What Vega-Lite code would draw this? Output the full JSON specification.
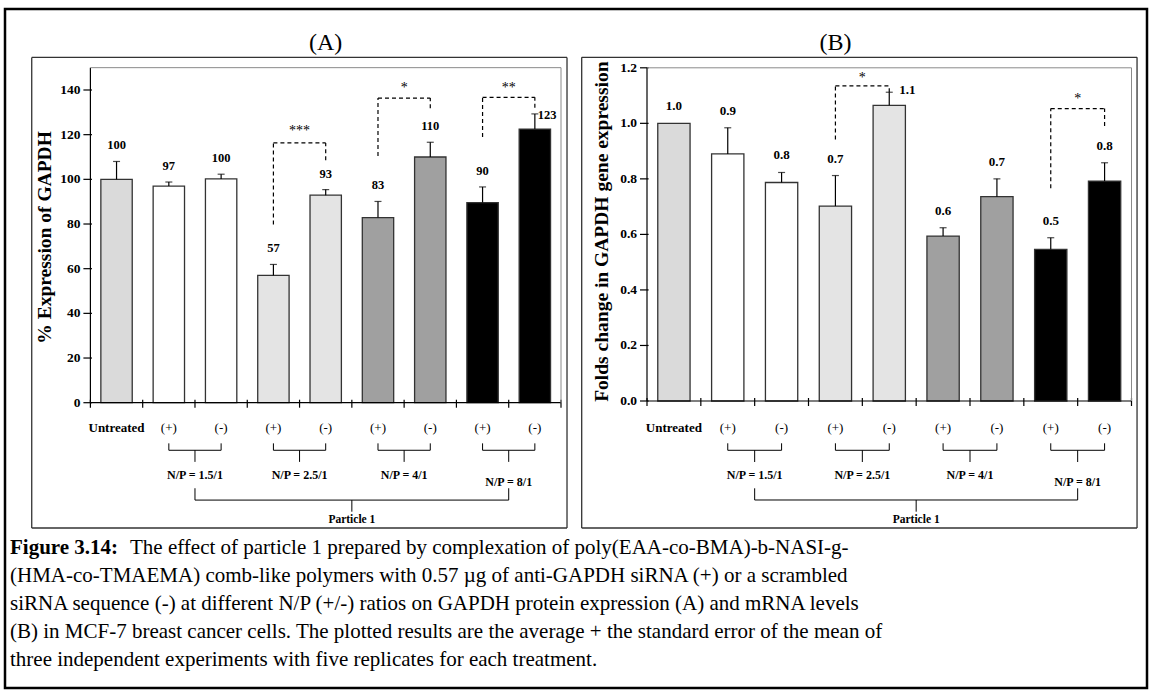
{
  "$schema": "https://vega.github.io/schema/vega-lite/v6.json",
  "width": 1142,
  "height": 679,
  "autosize": {"type": "none"},
  "padding": {"left": 5, "top": 9, "right": 5, "bottom": 2},
  "background": "white",
  "config": {
    "font": "Liberation Serif",
    "view": {"stroke": "#000000", "strokeWidth": 2.5},
    "axis": {"grid": false}
  },
  "datasets": {
    "a": [
      {"cat": "U", "grp": "U", "xl": "Untreated", "mean": 100, "upper": 108, "label": "100"},
      {"cat": "1.5+", "grp": "1.5", "xl": "(+)", "mean": 97, "upper": 98.8, "label": "97"},
      {"cat": "1.5-", "grp": "1.5", "xl": "(-)", "mean": 100.2, "upper": 102.3, "label": "100"},
      {"cat": "2.5+", "grp": "2.5", "xl": "(+)", "mean": 57, "upper": 61.9, "label": "57"},
      {"cat": "2.5-", "grp": "2.5", "xl": "(-)", "mean": 92.9, "upper": 95.4, "label": "93"},
      {"cat": "4+", "grp": "4", "xl": "(+)", "mean": 82.9, "upper": 90.1, "label": "83"},
      {"cat": "4-", "grp": "4", "xl": "(-)", "mean": 110, "upper": 116.6, "label": "110"},
      {"cat": "8+", "grp": "8", "xl": "(+)", "mean": 89.6, "upper": 96.6, "label": "90"},
      {"cat": "8-", "grp": "8", "xl": "(-)", "mean": 122.5, "upper": 129.3, "label": "123"}
    ],
    "b": [
      {"cat": "U", "grp": "U", "xl": "Untreated", "mean": 1.0, "upper": 1.0, "label": "1.0"},
      {"cat": "1.5+", "grp": "1.5", "xl": "(+)", "mean": 0.89, "upper": 0.984, "label": "0.9"},
      {"cat": "1.5-", "grp": "1.5", "xl": "(-)", "mean": 0.787, "upper": 0.823, "label": "0.8"},
      {"cat": "2.5+", "grp": "2.5", "xl": "(+)", "mean": 0.702, "upper": 0.812, "label": "0.7"},
      {"cat": "2.5-", "grp": "2.5", "xl": "(-)", "mean": 1.065, "upper": 1.112, "label": "1.1"},
      {"cat": "4+", "grp": "4", "xl": "(+)", "mean": 0.594, "upper": 0.624, "label": "0.6"},
      {"cat": "4-", "grp": "4", "xl": "(-)", "mean": 0.736, "upper": 0.8, "label": "0.7"},
      {"cat": "8+", "grp": "8", "xl": "(+)", "mean": 0.546, "upper": 0.588, "label": "0.5"},
      {"cat": "8-", "grp": "8", "xl": "(-)", "mean": 0.792, "upper": 0.858, "label": "0.8"}
    ],
    "yticksA": [
      {"at": "U", "v": 0, "t": "0"}, {"at": "U", "v": 20, "t": "20"}, {"at": "U", "v": 40, "t": "40"}, {"at": "U", "v": 60, "t": "60"},
      {"at": "U", "v": 80, "t": "80"}, {"at": "U", "v": 100, "t": "100"}, {"at": "U", "v": 120, "t": "120"}, {"at": "U", "v": 140, "t": "140"}
    ],
    "yticksB": [
      {"at": "U", "v": 0, "t": "0.0"}, {"at": "U", "v": 0.2, "t": "0.2"}, {"at": "U", "v": 0.4, "t": "0.4"}, {"at": "U", "v": 0.6, "t": "0.6"},
      {"at": "U", "v": 0.8, "t": "0.8"}, {"at": "U", "v": 1.0, "t": "1.0"}, {"at": "U", "v": 1.2, "t": "1.2"}
    ],
    "sigA": [
      {"c1": "2.5+", "c2": "2.5-", "yl": 79.8, "yt": 116.3, "yr": 108.5, "ys": 122.8, "star": "***"},
      {"c1": "4+", "c2": "4-", "yl": 110.5, "yt": 136.4, "yr": 131.8, "ys": 141.8, "star": "*"},
      {"c1": "8+", "c2": "8-", "yl": 119, "yt": 136.7, "yr": 132, "ys": 142.2, "star": "**"}
    ],
    "sigB": [
      {"c1": "2.5+", "c2": "2.5-", "yl": 0.942, "yt": 1.135, "yr": 1.112, "ys": 1.174, "star": "*"},
      {"c1": "8+", "c2": "8-", "yl": 0.766, "yt": 1.053, "yr": 0.99, "ys": 1.096, "star": "*"}
    ],
    "pairs": [
      {"c1": "1.5+", "c2": "1.5-", "np": "N/P = 1.5/1"},
      {"c1": "2.5+", "c2": "2.5-", "np": "N/P = 2.5/1"},
      {"c1": "4+", "c2": "4-", "np": "N/P = 4/1"},
      {"c1": "8+", "c2": "8-", "np": "N/P = 8/1"}
    ],
    "group": [
      {"first": "U", "last": "8-", "p1": "1.5-", "mid": "4+", "ptitle": "Particle 1"}
    ],
    "titleA": [{"at": "2.5-", "first": "U", "t": "(A)", "ytitle": "% Expression of GAPDH"}],
    "titleB": [{"at": "2.5+", "first": "U", "t": "(B)", "ytitle": "Folds change in GAPDH gene expression"}],
    "caption": [
      {"line": 1, "kind": "head", "text": "Figure 3.14:"},
      {"line": 1, "kind": "lead", "text": "The effect of particle 1 prepared by complexation of poly(EAA-co-BMA)-b-NASI-g-"},
      {"line": 2, "kind": "body", "text": "(HMA-co-TMAEMA) comb-like polymers with 0.57 µg of anti-GAPDH siRNA (+) or a scrambled"},
      {"line": 3, "kind": "body", "text": "siRNA sequence (-) at different N/P (+/-) ratios on GAPDH protein expression (A) and mRNA levels"},
      {"line": 4, "kind": "body", "text": "(B) in MCF-7 breast cancer cells. The plotted results are the average + the standard error of the mean of"},
      {"line": 5, "kind": "body", "text": "three independent experiments with five replicates for each treatment."}
    ]
  },
  "resolve": {"scale": {"x": "independent", "y": "independent"}},
  "layer": [
    {
      "layer": [
        {
          "data": {"name": "a"},
          "mark": {"type": "bar", "width": {"band": 0.6}, "stroke": "#333333", "strokeWidth": 1.3},
          "encoding": {
            "x": {"field": "cat", "type": "nominal",
              "scale": {"type": "band", "domain": ["U", "1.5+", "1.5-", "2.5+", "2.5-", "4+", "4-", "8+", "8-"], "range": [85.4, 556.0], "paddingInner": 0, "paddingOuter": 0, "round": false},
              "axis": null},
            "y": {"field": "mean", "type": "quantitative",
              "scale": {"domain": [0, 150], "range": [393.7, 58.66], "nice": false, "zero": false},
              "axis": null},
            "color": {"field": "grp", "type": "nominal", "scale": {"domain": ["U", "1.5", "2.5", "4", "8"], "range": ["#dadada", "#ffffff", "#e4e4e4", "#a0a0a0", "#000000"]}, "legend": null}
          }
        },
        {
          "data": {"name": "a"},
          "mark": {"type": "rule", "color": "#000000", "strokeWidth": 1.2},
          "encoding": {"x": {"field": "cat", "type": "nominal", "axis": null}, "y": {"field": "mean", "type": "quantitative", "axis": null}, "y2": {"field": "upper"}}
        },
        {
          "data": {"name": "a"},
          "mark": {"type": "tick", "color": "#000000", "size": 7, "thickness": 1.2, "orient": "horizontal"},
          "encoding": {"x": {"field": "cat", "type": "nominal", "axis": null}, "y": {"field": "upper", "type": "quantitative", "axis": null}}
        },
        {
          "data": {"name": "a"},
          "transform": [{"filter": "datum.cat != '8-'"}],
          "mark": {"type": "text", "fontWeight": "bold", "fontSize": 12.5, "dy": -16, "baseline": "middle", "color": "#000000"},
          "encoding": {"x": {"field": "cat", "type": "nominal", "axis": null}, "y": {"field": "upper", "type": "quantitative", "axis": null}, "text": {"field": "label"}}
        },
        {
          "data": {"name": "a"},
          "transform": [{"filter": "datum.cat == '8-'"}],
          "mark": {"type": "text", "fontWeight": "bold", "fontSize": 12.5, "dx": 3, "dy": 1.6, "align": "left", "baseline": "middle", "color": "#000000"},
          "encoding": {"x": {"field": "cat", "type": "nominal", "axis": null}, "y": {"field": "upper", "type": "quantitative", "axis": null}, "text": {"field": "label"}}
        },
        {
          "data": {"name": "a"},
          "mark": {"type": "rule", "color": "#000000", "strokeWidth": 1.2},
          "encoding": {"x": {"field": "cat", "type": "nominal", "bandPosition": 0, "axis": null}, "y": {"datum": 1.34, "axis": null}, "y2": {"datum": -2.24}}
        },
        {
          "data": {"name": "a"},
          "transform": [{"filter": "datum.cat == 'U'"}],
          "mark": {"type": "text", "fontWeight": "bold", "fontSize": 13, "baseline": "middle", "color": "#000000"},
          "encoding": {"x": {"field": "cat", "type": "nominal", "axis": null}, "y": {"datum": -11.3, "axis": null}, "text": {"field": "xl"}}
        },
        {
          "data": {"name": "a"},
          "transform": [{"filter": "datum.cat != 'U'"}],
          "mark": {"type": "text", "fontSize": 13, "baseline": "middle", "color": "#000000"},
          "encoding": {"x": {"field": "cat", "type": "nominal", "axis": null}, "y": {"datum": -11.3, "axis": null}, "text": {"field": "xl"}}
        },
        {
          "data": {"name": "yticksA"},
          "mark": {"type": "rule", "color": "#000000", "strokeWidth": 1.2},
          "encoding": {"x": {"field": "at", "type": "nominal", "bandPosition": 0.03, "axis": null}, "x2": {"field": "at", "bandPosition": -0.134}, "y": {"field": "v", "type": "quantitative", "axis": null}}
        },
        {
          "data": {"name": "yticksA"},
          "mark": {"type": "text", "fontWeight": "bold", "fontSize": 13.5, "align": "right", "baseline": "middle", "dx": -10, "color": "#000000"},
          "encoding": {"x": {"field": "at", "type": "nominal", "bandPosition": 0, "axis": null}, "y": {"field": "v", "type": "quantitative", "axis": null}, "text": {"field": "t"}}
        },
        {
          "data": {"name": "titleA"},
          "mark": {"type": "text", "fontWeight": "bold", "fontSize": 19.5, "angle": 270, "align": "center", "baseline": "middle", "color": "#000000"},
          "encoding": {"x": {"field": "first", "type": "nominal", "bandPosition": -0.868, "axis": null}, "y": {"datum": 74, "axis": null}, "text": {"field": "ytitle"}}
        },
        {
          "data": {"name": "group"},
          "mark": {"type": "rule", "color": "#000000", "strokeWidth": 1.2},
          "encoding": {"x": {"field": "first", "type": "nominal", "bandPosition": 0, "axis": null}, "y": {"datum": 0, "axis": null}, "y2": {"datum": 150}}
        },
        {
          "data": {"name": "group"},
          "mark": {"type": "rule", "color": "#000000", "strokeWidth": 1.2},
          "encoding": {"x": {"field": "first", "type": "nominal", "bandPosition": 0, "axis": null}, "x2": {"field": "last", "bandPosition": 1}, "y": {"datum": 0, "axis": null}}
        },
        {
          "data": {"name": "group"},
          "mark": {"type": "rule", "color": "#000000", "strokeWidth": 1.2},
          "encoding": {"x": {"field": "last", "type": "nominal", "bandPosition": 1, "axis": null}, "y": {"datum": 1.34, "axis": null}, "y2": {"datum": -2.24}}
        },
        {
          "data": {"name": "sigA"},
          "mark": {"type": "rule", "color": "#000000", "strokeWidth": 1.2, "strokeDash": [4, 3]},
          "encoding": {"x": {"field": "c1", "type": "nominal", "axis": null}, "y": {"field": "yl", "type": "quantitative", "axis": null}, "y2": {"field": "yt"}}
        },
        {
          "data": {"name": "sigA"},
          "mark": {"type": "rule", "color": "#000000", "strokeWidth": 1.2, "strokeDash": [4, 3]},
          "encoding": {"x": {"field": "c1", "type": "nominal", "axis": null}, "x2": {"field": "c2"}, "y": {"field": "yt", "type": "quantitative", "axis": null}}
        },
        {
          "data": {"name": "sigA"},
          "mark": {"type": "rule", "color": "#000000", "strokeWidth": 1.2, "strokeDash": [4, 3]},
          "encoding": {"x": {"field": "c2", "type": "nominal", "axis": null}, "y": {"field": "yr", "type": "quantitative", "axis": null}, "y2": {"field": "yt"}}
        },
        {
          "data": {"name": "sigA"},
          "mark": {"type": "text", "fontSize": 14, "baseline": "alphabetic", "dy": 6.5, "color": "#000000"},
          "encoding": {"x": {"field": "c2", "type": "nominal", "bandPosition": 0, "axis": null}, "y": {"field": "ys", "type": "quantitative", "axis": null}, "text": {"field": "star"}}
        },
        {
          "data": {"name": "pairs"},
          "mark": {"type": "rule", "color": "#000000", "strokeWidth": 1},
          "encoding": {"x": {"field": "c1", "type": "nominal", "axis": null}, "y": {"datum": -18.2, "axis": null}, "y2": {"datum": -21.3}}
        },
        {
          "data": {"name": "pairs"},
          "mark": {"type": "rule", "color": "#000000", "strokeWidth": 1},
          "encoding": {"x": {"field": "c2", "type": "nominal", "axis": null}, "y": {"datum": -18.2, "axis": null}, "y2": {"datum": -21.3}}
        },
        {
          "data": {"name": "pairs"},
          "mark": {"type": "rule", "color": "#000000", "strokeWidth": 1},
          "encoding": {"x": {"field": "c1", "type": "nominal", "axis": null}, "x2": {"field": "c2"}, "y": {"datum": -21.3, "axis": null}}
        },
        {
          "data": {"name": "pairs"},
          "mark": {"type": "rule", "color": "#000000", "strokeWidth": 1},
          "encoding": {"x": {"field": "c2", "type": "nominal", "bandPosition": 0, "axis": null}, "y": {"datum": -21.3, "axis": null}, "y2": {"datum": -26.5}}
        },
        {
          "data": {"name": "pairs"},
          "transform": [{"filter": "datum.c2 != '8-'"}],
          "mark": {"type": "text", "fontSize": 12, "fontWeight": "bold", "baseline": "middle", "color": "#000000"},
          "encoding": {"x": {"field": "c2", "type": "nominal", "bandPosition": 0, "axis": null}, "y": {"datum": -32.4, "axis": null}, "text": {"field": "np"}}
        },
        {
          "data": {"name": "pairs"},
          "transform": [{"filter": "datum.c2 == '8-'"}],
          "mark": {"type": "text", "fontSize": 12, "fontWeight": "bold", "baseline": "middle", "color": "#000000"},
          "encoding": {"x": {"field": "c2", "type": "nominal", "bandPosition": 0, "axis": null}, "y": {"datum": -35.4, "axis": null}, "text": {"field": "np"}}
        },
        {
          "data": {"name": "group"},
          "mark": {"type": "rule", "color": "#000000", "strokeWidth": 1},
          "encoding": {"x": {"field": "p1", "type": "nominal", "bandPosition": 0, "axis": null}, "y": {"datum": -38.3, "axis": null}, "y2": {"datum": -43.6}}
        },
        {
          "data": {"name": "group"},
          "mark": {"type": "rule", "color": "#000000", "strokeWidth": 1},
          "encoding": {"x": {"field": "last", "type": "nominal", "bandPosition": 0, "axis": null}, "y": {"datum": -38.3, "axis": null}, "y2": {"datum": -43.6}}
        },
        {
          "data": {"name": "group"},
          "mark": {"type": "rule", "color": "#000000", "strokeWidth": 1},
          "encoding": {"x": {"field": "p1", "type": "nominal", "bandPosition": 0, "axis": null}, "x2": {"field": "last", "bandPosition": 0}, "y": {"datum": -43.6, "axis": null}}
        },
        {
          "data": {"name": "group"},
          "mark": {"type": "rule", "color": "#000000", "strokeWidth": 1},
          "encoding": {"x": {"field": "mid", "type": "nominal", "bandPosition": 0, "axis": null}, "y": {"datum": -43.6, "axis": null}, "y2": {"datum": -48.8}}
        },
        {
          "data": {"name": "group"},
          "mark": {"type": "text", "fontSize": 11.5, "fontWeight": "bold", "baseline": "middle", "color": "#000000"},
          "encoding": {"x": {"field": "mid", "type": "nominal", "bandPosition": 0, "axis": null}, "y": {"datum": -52.5, "axis": null}, "text": {"field": "ptitle"}}
        },
        {
          "data": {"name": "group"},
          "mark": {"type": "rule", "color": "#8a8a8a", "strokeWidth": 1},
          "encoding": {"x": {"field": "first", "type": "nominal", "bandPosition": 0, "axis": null}, "x2": {"field": "last", "bandPosition": 1}, "y": {"datum": 150, "axis": null}}
        },
        {
          "data": {"name": "group"},
          "mark": {"type": "rule", "color": "#8a8a8a", "strokeWidth": 1},
          "encoding": {"x": {"field": "last", "type": "nominal", "bandPosition": 1, "axis": null}, "y": {"datum": 0, "axis": null}, "y2": {"datum": 150}}
        },
        {
          "data": {"name": "group"},
          "mark": {"type": "rule", "color": "#333333", "strokeWidth": 1.3},
          "encoding": {"x": {"field": "first", "type": "nominal", "bandPosition": -1.122, "axis": null}, "x2": {"field": "last", "bandPosition": 1.115}, "y": {"datum": 154.6, "axis": null}}
        },
        {
          "data": {"name": "group"},
          "mark": {"type": "rule", "color": "#333333", "strokeWidth": 1.3},
          "encoding": {"x": {"field": "first", "type": "nominal", "bandPosition": -1.122, "axis": null}, "x2": {"field": "last", "bandPosition": 1.115}, "y": {"datum": -56.1, "axis": null}}
        },
        {
          "data": {"name": "group"},
          "mark": {"type": "rule", "color": "#333333", "strokeWidth": 1.3},
          "encoding": {"x": {"field": "first", "type": "nominal", "bandPosition": -1.122, "axis": null}, "y": {"datum": -56.1, "axis": null}, "y2": {"datum": 154.6}}
        },
        {
          "data": {"name": "group"},
          "mark": {"type": "rule", "color": "#333333", "strokeWidth": 1.3},
          "encoding": {"x": {"field": "last", "type": "nominal", "bandPosition": 1.115, "axis": null}, "y": {"datum": -56.1, "axis": null}, "y2": {"datum": 154.6}}
        },
        {
          "data": {"name": "titleA"},
          "mark": {"type": "text", "fontSize": 24, "baseline": "middle", "color": "#000000"},
          "encoding": {"x": {"field": "at", "type": "nominal", "axis": null}, "y": {"datum": 161, "axis": null}, "text": {"field": "t"}}
        }
      ]
    },
    {
      "layer": [
        {
          "data": {"name": "b"},
          "mark": {"type": "bar", "width": {"band": 0.6}, "stroke": "#333333", "strokeWidth": 1.3},
          "encoding": {
            "x": {"field": "cat", "type": "nominal",
              "scale": {"type": "band", "domain": ["U", "1.5+", "1.5-", "2.5+", "2.5-", "4+", "4-", "8+", "8-"], "range": [642.0, 1126.5], "paddingInner": 0, "paddingOuter": 0, "round": false},
              "axis": null},
            "y": {"field": "mean", "type": "quantitative",
              "scale": {"domain": [0, 1.2], "range": [392, 58.8], "nice": false, "zero": false},
              "axis": null},
            "color": {"field": "grp", "type": "nominal", "scale": {"domain": ["U", "1.5", "2.5", "4", "8"], "range": ["#dadada", "#ffffff", "#e4e4e4", "#a0a0a0", "#000000"]}, "legend": null}
          }
        },
        {
          "data": {"name": "b"},
          "mark": {"type": "rule", "color": "#000000", "strokeWidth": 1.2},
          "encoding": {"x": {"field": "cat", "type": "nominal", "axis": null}, "y": {"field": "mean", "type": "quantitative", "axis": null}, "y2": {"field": "upper"}}
        },
        {
          "data": {"name": "b"},
          "transform": [{"filter": "datum.upper > datum.mean"}],
          "mark": {"type": "tick", "color": "#000000", "size": 7, "thickness": 1.2, "orient": "horizontal"},
          "encoding": {"x": {"field": "cat", "type": "nominal", "axis": null}, "y": {"field": "upper", "type": "quantitative", "axis": null}}
        },
        {
          "data": {"name": "b"},
          "transform": [{"filter": "datum.cat != '2.5-'"}],
          "mark": {"type": "text", "fontWeight": "bold", "fontSize": 13, "dy": -17, "baseline": "middle", "color": "#000000"},
          "encoding": {"x": {"field": "cat", "type": "nominal", "axis": null}, "y": {"field": "upper", "type": "quantitative", "axis": null}, "text": {"field": "label"}}
        },
        {
          "data": {"name": "b"},
          "transform": [{"filter": "datum.cat == '2.5-'"}],
          "mark": {"type": "text", "fontWeight": "bold", "fontSize": 13, "dx": 10, "dy": -2, "align": "left", "baseline": "middle", "color": "#000000"},
          "encoding": {"x": {"field": "cat", "type": "nominal", "axis": null}, "y": {"field": "upper", "type": "quantitative", "axis": null}, "text": {"field": "label"}}
        },
        {
          "data": {"name": "b"},
          "mark": {"type": "rule", "color": "#000000", "strokeWidth": 1.2},
          "encoding": {"x": {"field": "cat", "type": "nominal", "bandPosition": 0, "axis": null}, "y": {"datum": 0.0108, "axis": null}, "y2": {"datum": -0.018}}
        },
        {
          "data": {"name": "b"},
          "transform": [{"filter": "datum.cat == 'U'"}],
          "mark": {"type": "text", "fontWeight": "bold", "fontSize": 13, "baseline": "middle", "color": "#000000"},
          "encoding": {"x": {"field": "cat", "type": "nominal", "axis": null}, "y": {"datum": -0.0972, "axis": null}, "text": {"field": "xl"}}
        },
        {
          "data": {"name": "b"},
          "transform": [{"filter": "datum.cat != 'U'"}],
          "mark": {"type": "text", "fontSize": 13, "baseline": "middle", "color": "#000000"},
          "encoding": {"x": {"field": "cat", "type": "nominal", "axis": null}, "y": {"datum": -0.0972, "axis": null}, "text": {"field": "xl"}}
        },
        {
          "data": {"name": "yticksB"},
          "mark": {"type": "rule", "color": "#000000", "strokeWidth": 1.2},
          "encoding": {"x": {"field": "at", "type": "nominal", "bandPosition": 0.03, "axis": null}, "x2": {"field": "at", "bandPosition": -0.13}, "y": {"field": "v", "type": "quantitative", "axis": null}}
        },
        {
          "data": {"name": "yticksB"},
          "mark": {"type": "text", "fontWeight": "bold", "fontSize": 13.5, "align": "right", "baseline": "middle", "dx": -10, "color": "#000000"},
          "encoding": {"x": {"field": "at", "type": "nominal", "bandPosition": 0, "axis": null}, "y": {"field": "v", "type": "quantitative", "axis": null}, "text": {"field": "t"}}
        },
        {
          "data": {"name": "titleB"},
          "mark": {"type": "text", "fontWeight": "bold", "fontSize": 19.5, "angle": 270, "align": "center", "baseline": "middle", "color": "#000000"},
          "encoding": {"x": {"field": "first", "type": "nominal", "bandPosition": -0.842, "axis": null}, "y": {"datum": 0.61, "axis": null}, "text": {"field": "ytitle"}}
        },
        {
          "data": {"name": "group"},
          "mark": {"type": "rule", "color": "#000000", "strokeWidth": 1.2},
          "encoding": {"x": {"field": "first", "type": "nominal", "bandPosition": 0, "axis": null}, "y": {"datum": 0, "axis": null}, "y2": {"datum": 1.2}}
        },
        {
          "data": {"name": "group"},
          "mark": {"type": "rule", "color": "#000000", "strokeWidth": 1.2},
          "encoding": {"x": {"field": "first", "type": "nominal", "bandPosition": 0, "axis": null}, "x2": {"field": "last", "bandPosition": 1}, "y": {"datum": 0, "axis": null}}
        },
        {
          "data": {"name": "group"},
          "mark": {"type": "rule", "color": "#000000", "strokeWidth": 1.2},
          "encoding": {"x": {"field": "last", "type": "nominal", "bandPosition": 1, "axis": null}, "y": {"datum": 0.0108, "axis": null}, "y2": {"datum": -0.018}}
        },
        {
          "data": {"name": "sigB"},
          "mark": {"type": "rule", "color": "#000000", "strokeWidth": 1.2, "strokeDash": [4, 3]},
          "encoding": {"x": {"field": "c1", "type": "nominal", "axis": null}, "y": {"field": "yl", "type": "quantitative", "axis": null}, "y2": {"field": "yt"}}
        },
        {
          "data": {"name": "sigB"},
          "mark": {"type": "rule", "color": "#000000", "strokeWidth": 1.2, "strokeDash": [4, 3]},
          "encoding": {"x": {"field": "c1", "type": "nominal", "axis": null}, "x2": {"field": "c2"}, "y": {"field": "yt", "type": "quantitative", "axis": null}}
        },
        {
          "data": {"name": "sigB"},
          "mark": {"type": "rule", "color": "#000000", "strokeWidth": 1.2, "strokeDash": [4, 3]},
          "encoding": {"x": {"field": "c2", "type": "nominal", "axis": null}, "y": {"field": "yr", "type": "quantitative", "axis": null}, "y2": {"field": "yt"}}
        },
        {
          "data": {"name": "sigB"},
          "mark": {"type": "text", "fontSize": 14, "baseline": "alphabetic", "dy": 6.5, "color": "#000000"},
          "encoding": {"x": {"field": "c2", "type": "nominal", "bandPosition": 0, "axis": null}, "y": {"field": "ys", "type": "quantitative", "axis": null}, "text": {"field": "star"}}
        },
        {
          "data": {"name": "pairs"},
          "mark": {"type": "rule", "color": "#000000", "strokeWidth": 1},
          "encoding": {"x": {"field": "c1", "type": "nominal", "axis": null}, "y": {"datum": -0.1523, "axis": null}, "y2": {"datum": -0.1775}}
        },
        {
          "data": {"name": "pairs"},
          "mark": {"type": "rule", "color": "#000000", "strokeWidth": 1},
          "encoding": {"x": {"field": "c2", "type": "nominal", "axis": null}, "y": {"datum": -0.1523, "axis": null}, "y2": {"datum": -0.1775}}
        },
        {
          "data": {"name": "pairs"},
          "mark": {"type": "rule", "color": "#000000", "strokeWidth": 1},
          "encoding": {"x": {"field": "c1", "type": "nominal", "axis": null}, "x2": {"field": "c2"}, "y": {"datum": -0.1775, "axis": null}}
        },
        {
          "data": {"name": "pairs"},
          "mark": {"type": "rule", "color": "#000000", "strokeWidth": 1},
          "encoding": {"x": {"field": "c2", "type": "nominal", "bandPosition": 0, "axis": null}, "y": {"datum": -0.1775, "axis": null}, "y2": {"datum": -0.2197}}
        },
        {
          "data": {"name": "pairs"},
          "transform": [{"filter": "datum.c2 != '8-'"}],
          "mark": {"type": "text", "fontSize": 12, "fontWeight": "bold", "baseline": "middle", "color": "#000000"},
          "encoding": {"x": {"field": "c2", "type": "nominal", "bandPosition": 0, "axis": null}, "y": {"datum": -0.2665, "axis": null}, "text": {"field": "np"}}
        },
        {
          "data": {"name": "pairs"},
          "transform": [{"filter": "datum.c2 == '8-'"}],
          "mark": {"type": "text", "fontSize": 12, "fontWeight": "bold", "baseline": "middle", "color": "#000000"},
          "encoding": {"x": {"field": "c2", "type": "nominal", "bandPosition": 0, "axis": null}, "y": {"datum": -0.2906, "axis": null}, "text": {"field": "np"}}
        },
        {
          "data": {"name": "group"},
          "mark": {"type": "rule", "color": "#000000", "strokeWidth": 1},
          "encoding": {"x": {"field": "p1", "type": "nominal", "bandPosition": 0, "axis": null}, "y": {"datum": -0.3144, "axis": null}, "y2": {"datum": -0.3565}}
        },
        {
          "data": {"name": "group"},
          "mark": {"type": "rule", "color": "#000000", "strokeWidth": 1},
          "encoding": {"x": {"field": "last", "type": "nominal", "bandPosition": 0, "axis": null}, "y": {"datum": -0.3144, "axis": null}, "y2": {"datum": -0.3565}}
        },
        {
          "data": {"name": "group"},
          "mark": {"type": "rule", "color": "#000000", "strokeWidth": 1},
          "encoding": {"x": {"field": "p1", "type": "nominal", "bandPosition": 0, "axis": null}, "x2": {"field": "last", "bandPosition": 0}, "y": {"datum": -0.3565, "axis": null}}
        },
        {
          "data": {"name": "group"},
          "mark": {"type": "rule", "color": "#000000", "strokeWidth": 1},
          "encoding": {"x": {"field": "mid", "type": "nominal", "bandPosition": 0, "axis": null}, "y": {"datum": -0.3565, "axis": null}, "y2": {"datum": -0.3986}}
        },
        {
          "data": {"name": "group"},
          "mark": {"type": "text", "fontSize": 11.5, "fontWeight": "bold", "baseline": "middle", "color": "#000000"},
          "encoding": {"x": {"field": "mid", "type": "nominal", "bandPosition": 0, "axis": null}, "y": {"datum": -0.4285, "axis": null}, "text": {"field": "ptitle"}}
        },
        {
          "data": {"name": "group"},
          "mark": {"type": "rule", "color": "#8a8a8a", "strokeWidth": 1},
          "encoding": {"x": {"field": "first", "type": "nominal", "bandPosition": 0, "axis": null}, "x2": {"field": "last", "bandPosition": 1}, "y": {"datum": 1.2, "axis": null}}
        },
        {
          "data": {"name": "group"},
          "mark": {"type": "rule", "color": "#8a8a8a", "strokeWidth": 1},
          "encoding": {"x": {"field": "last", "type": "nominal", "bandPosition": 1, "axis": null}, "y": {"datum": 0, "axis": null}, "y2": {"datum": 1.2}}
        },
        {
          "data": {"name": "group"},
          "mark": {"type": "rule", "color": "#333333", "strokeWidth": 1.3},
          "encoding": {"x": {"field": "first", "type": "nominal", "bandPosition": -1.213, "axis": null}, "x2": {"field": "last", "bandPosition": 1.103}, "y": {"datum": 1.2377, "axis": null}}
        },
        {
          "data": {"name": "group"},
          "mark": {"type": "rule", "color": "#333333", "strokeWidth": 1.3},
          "encoding": {"x": {"field": "first", "type": "nominal", "bandPosition": -1.213, "axis": null}, "x2": {"field": "last", "bandPosition": 1.103}, "y": {"datum": -0.4573, "axis": null}}
        },
        {
          "data": {"name": "group"},
          "mark": {"type": "rule", "color": "#333333", "strokeWidth": 1.3},
          "encoding": {"x": {"field": "first", "type": "nominal", "bandPosition": -1.213, "axis": null}, "y": {"datum": -0.4573, "axis": null}, "y2": {"datum": 1.2377}}
        },
        {
          "data": {"name": "group"},
          "mark": {"type": "rule", "color": "#333333", "strokeWidth": 1.3},
          "encoding": {"x": {"field": "last", "type": "nominal", "bandPosition": 1.103, "axis": null}, "y": {"datum": -0.4573, "axis": null}, "y2": {"datum": 1.2377}}
        },
        {
          "data": {"name": "titleB"},
          "mark": {"type": "text", "fontSize": 24, "baseline": "middle", "color": "#000000"},
          "encoding": {"x": {"field": "at", "type": "nominal", "axis": null}, "y": {"datum": 1.289, "axis": null}, "text": {"field": "t"}}
        }
      ]
    },
    {
      "data": {"name": "caption"},
      "layer": [
        {
          "transform": [{"filter": "datum.kind == 'head'"}],
          "mark": {"type": "text", "align": "left", "baseline": "middle", "fontSize": 21, "fontWeight": "bold", "dx": 5, "color": "#000000"},
          "encoding": {"x": {"value": 0}, "y": {"field": "line", "type": "ordinal", "scale": {"type": "point", "range": [539, 651], "padding": 0}, "axis": null}, "text": {"field": "text"}}
        },
        {
          "transform": [{"filter": "datum.kind == 'lead'"}],
          "mark": {"type": "text", "align": "left", "baseline": "middle", "fontSize": 21, "dx": 125, "color": "#000000"},
          "encoding": {"x": {"value": 0}, "y": {"field": "line", "type": "ordinal", "axis": null}, "text": {"field": "text"}}
        },
        {
          "transform": [{"filter": "datum.kind == 'body'"}],
          "mark": {"type": "text", "align": "left", "baseline": "middle", "fontSize": 21, "dx": 5, "color": "#000000"},
          "encoding": {"x": {"value": 0}, "y": {"field": "line", "type": "ordinal", "axis": null}, "text": {"field": "text"}}
        }
      ]
    }
  ]
}
